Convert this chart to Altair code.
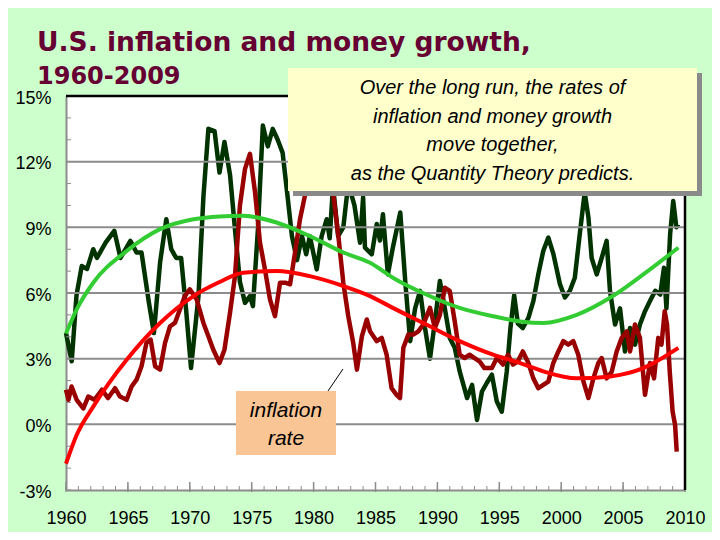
import altair as alt
import pandas as pd

# ---------------- data ----------------
money_year = [1960.0, 1960.46, 1960.85, 1961.27, 1961.7, 1962.2, 1962.5, 1963.2, 1963.9, 1964.4,
              1965.2, 1965.7, 1966.1, 1966.7, 1967.1, 1967.6, 1968.1, 1968.5, 1968.9, 1969.3,
              1969.7, 1970.1, 1970.7, 1971.1, 1971.5, 1972.0, 1972.4, 1972.8, 1973.25, 1973.65,
              1974.05, 1974.46, 1974.86, 1975.1, 1975.5, 1975.9, 1976.3, 1976.7, 1977.1, 1977.5,
              1977.9, 1978.25, 1978.66, 1979.06, 1979.4, 1979.7, 1980.25, 1980.65, 1981.06, 1981.3,
              1981.57, 1981.98, 1982.4, 1982.8, 1983.3, 1983.75, 1984.0, 1984.15, 1984.7, 1985.1,
              1985.36, 1985.6, 1986.0, 1986.4, 1987.0, 1987.4, 1987.8, 1988.2, 1988.6, 1989.0,
              1989.4, 1989.8, 1990.2, 1990.6, 1991.0, 1991.4, 1991.8, 1992.4, 1992.8, 1993.2,
              1993.6, 1994.0, 1994.4, 1994.8, 1995.2, 1995.6, 1995.9, 1996.2, 1996.5, 1996.9,
              1997.35, 1997.75, 1998.15, 1998.55, 1998.96, 1999.36, 1999.9, 2000.3, 2000.7, 2001.1,
              2001.5, 2001.9, 2002.2, 2002.46, 2002.87, 2003.27, 2003.67, 2003.94, 2004.35, 2004.75,
              2005.15, 2005.56, 2005.96, 2006.36, 2006.77, 2007.17, 2007.6, 2008.0, 2008.3, 2008.5,
              2008.8, 2009.05, 2009.3, 2009.46]
money_val = [4.17, 2.88, 5.9, 7.23, 7.1, 8.0, 7.6, 8.3, 8.84, 7.6,
             8.38, 7.85, 7.85, 5.55, 4.17, 7.4, 9.37, 8.0, 7.6, 7.6,
             5.25, 2.57, 5.86, 10.4, 13.5, 13.4, 11.5, 12.9, 11.4, 8.9,
             6.5, 5.55, 5.86, 5.4, 8.9, 13.65, 12.7, 13.5, 13.0, 12.4,
             10.4, 8.6, 7.5, 8.6, 7.77, 8.6, 7.08, 8.6, 9.37, 8.5,
             10.9, 8.6, 9.0, 11.0, 10.0, 8.3, 10.37, 8.07, 7.77, 9.15,
             8.4, 9.6, 6.85, 8.07, 9.68, 6.55, 3.8, 5.3, 6.1, 4.4,
             3.0, 4.7, 6.55, 5.3, 3.95, 3.5, 2.42, 1.2, 1.8, 0.2,
             1.5, 1.9, 2.27, 1.04, 0.58, 2.4, 4.4, 5.9, 4.6, 4.4,
             4.86, 5.63, 6.85, 7.92, 8.53, 7.8, 6.4, 5.8, 6.1, 6.7,
             8.7, 10.6, 9.45, 7.6, 6.85, 7.6, 8.38, 6.1, 4.56, 5.3,
             3.33, 4.4, 3.64, 4.56, 5.17, 5.63, 6.1, 5.93, 7.15, 5.3,
             8.7, 10.2, 9.0, 9.15]

infl_year = [1960.0, 1960.2, 1960.45, 1960.86, 1961.4, 1961.8, 1962.3, 1962.9, 1963.4, 1963.96,
             1964.36, 1964.9, 1965.3, 1965.7, 1966.1, 1966.5, 1966.84, 1967.2, 1967.6, 1968.0,
             1968.4, 1968.8, 1969.2, 1969.6, 1970.0, 1970.56, 1971.1, 1971.5, 1971.9, 1972.4,
             1972.8, 1973.25, 1973.65, 1974.05, 1974.46, 1974.86, 1975.27, 1975.67, 1976.07, 1976.48,
             1976.88, 1977.29, 1977.7, 1978.1, 1978.5, 1978.9, 1979.3, 1979.7, 1980.2, 1980.6,
             1981.0, 1981.3, 1981.6, 1982.0, 1982.4, 1982.8, 1983.2, 1983.5, 1983.9, 1984.3,
             1984.56, 1985.1, 1985.5, 1985.9, 1986.3, 1986.7, 1986.98, 1987.25, 1987.65, 1988.05,
             1988.46, 1988.86, 1989.4, 1989.8, 1990.2, 1990.6, 1991.0, 1991.4, 1991.8, 1992.2,
             1992.6, 1993.0, 1993.4, 1993.8, 1994.4, 1994.8, 1995.3, 1995.7, 1996.1, 1996.5,
             1996.9, 1997.35, 1997.75, 1998.15, 1998.55, 1998.96, 1999.36, 1999.77, 2000.17, 2000.57,
             2000.98, 2001.38, 2001.8, 2002.2, 2002.6, 2003.0, 2003.27, 2003.67, 2004.08, 2004.48,
             2004.89, 2005.3, 2005.56, 2005.96, 2006.36, 2006.77, 2007.17, 2007.5, 2007.84, 2008.1,
             2008.36, 2008.55, 2008.77, 2009.0, 2009.2, 2009.33]
infl_val = [1.58, 1.12, 1.73, 1.12, 0.73, 1.27, 1.12, 1.58, 1.2, 1.65,
            1.27, 1.12, 1.73, 2.04, 2.65, 3.72, 3.87, 2.65, 2.5, 3.72,
            4.48, 4.63, 5.25, 5.86, 6.17, 5.7, 4.63, 4.02, 3.41, 2.8,
            3.41, 5.1, 6.77, 10.0, 11.67, 12.36, 10.6, 8.3, 7.08, 5.7,
            4.94, 6.47, 6.47, 6.4, 7.85, 9.37, 10.45, 12.2, 14.6, 12.8,
            12.0, 10.9, 10.45, 8.6, 6.47, 4.94, 3.72, 2.5, 4.02, 4.79,
            4.25, 3.8, 3.95, 3.18, 1.65, 1.35, 1.2, 3.5, 4.1, 4.1,
            4.25, 4.56, 5.32, 4.4, 5.0, 6.24, 6.1, 4.7, 3.18, 3.03,
            3.18, 3.03, 2.88, 2.57, 2.57, 3.03, 2.73, 3.18, 2.73, 2.88,
            3.33, 2.8, 2.1, 1.65, 1.8, 1.95, 2.8, 3.33, 3.8, 3.64,
            3.8, 3.18, 1.95, 1.2, 2.1, 2.8, 3.03, 2.1, 2.4, 3.33,
            3.95, 4.25, 3.33, 4.56, 3.95, 1.35, 2.8, 2.1, 3.95, 3.64,
            5.17, 4.56, 2.4, 0.58, -0.03, -1.25]

trend_year = [1960.0, 1960.86, 1962.2, 1964.9, 1967.6, 1970.3, 1972.4, 1974.3, 1977.0, 1979.7,
              1982.4, 1984.56, 1986.4, 1989.1, 1991.8, 1994.5, 1996.7, 1998.55, 2001.25, 2003.94,
              2006.63, 2009.46]
money_trend = [4.15, 5.25, 6.47, 7.92, 8.92, 9.37, 9.5, 9.53, 9.22, 8.6,
               7.85, 7.38, 6.7, 5.93, 5.32, 4.94, 4.7, 4.63, 5.0, 5.78,
               6.85, 8.07]
infl_trend = [-1.8, -0.49, 0.81, 2.95, 4.63, 5.86, 6.5, 6.93, 7.0, 6.77,
              6.32, 5.86, 5.32, 4.56, 3.8, 3.18, 2.8, 2.42, 2.1, 2.19,
              2.57, 3.49]

grid_values = [0, 3, 6, 9, 12]
y_label_values = [-3, 0, 3, 6, 9, 12, 15]
x_label_values = [1960, 1965, 1970, 1975, 1980, 1985, 1990, 1995, 2000, 2005, 2010]
x_minor = list(range(1960, 2011))
y_minor = list(range(-3, 16))

title_line1 = "U.S. inflation and money growth,"
title_line2 = "1960-2009"
callout_lines = ["Over the long run, the rates of", "inflation and money growth",
                 "move together,", "as the Quantity Theory predicts."]
infl_label = ["inflation", "rate"]

# ---------------- chart ----------------
W, H = 619, 394
L, T = 66, 96  # plot origin on the page (used for annotation placement)
FONT = "Liberation Sans"

xs = alt.Scale(domain=[1960, 2010], nice=False, zero=False)
ys = alt.Scale(domain=[-3, 15], nice=False, zero=False)

X_AX = alt.Axis(values=x_label_values, format="d", ticks=False, grid=False, title=None,
                domainColor="#8c8c8c", domainWidth=2, labelFont=FONT, labelFontSize=18,
                labelColor="black", labelPadding=19, labelFlush=False, labelOverlap=False)
Y_AX = alt.Axis(values=y_label_values, labelExpr="datum.value + '%'", ticks=False, grid=False,
                title=None, domainColor="#8c8c8c", domainWidth=2, labelFont=FONT,
                labelFontSize=18, labelColor="black", labelPadding=15, labelFlush=False,
                labelOverlap=False, labelOffset=2)


def X(field):
    return alt.X(field, scale=xs, axis=X_AX)


def Y(field):
    return alt.Y(field, scale=ys, axis=Y_AX)


money_df = pd.DataFrame({"year": money_year, "rate": money_val})
infl_df = pd.DataFrame({"year": infl_year, "rate": infl_val})
trend_df = pd.DataFrame({"year": trend_year, "money": money_trend, "infl": infl_trend})
one = pd.DataFrame({"a": [0]})

money_line = alt.Chart(money_df).mark_line(color="#003300", strokeWidth=4.5, strokeJoin="round").encode(
    x=X("year:Q"), y=Y("rate:Q"))

grid = alt.Chart(pd.DataFrame({"v": grid_values})).mark_rule(
    color="#8c8c8c", strokeWidth=2).encode(y=Y("v:Q"))

xt_minor = alt.Chart(pd.DataFrame({"yr": x_minor})).mark_rule(color="#8c8c8c", strokeWidth=1).encode(
    x=X("yr:Q"), y=alt.value(H), y2=alt.value(H - 4))
xt_major = alt.Chart(pd.DataFrame({"yr": x_label_values})).mark_rule(color="#8c8c8c", strokeWidth=1.5).encode(
    x=X("yr:Q"), y=alt.value(H + 2), y2=alt.value(H - 8))
yt_minor = alt.Chart(pd.DataFrame({"v": y_minor})).mark_rule(color="#8c8c8c", strokeWidth=1).encode(
    y=Y("v:Q"), x=alt.value(0), x2=alt.value(5))

infl_line = alt.Chart(infl_df).mark_line(color="#990000", strokeWidth=4.5, strokeJoin="round").encode(
    x=X("year:Q"), y=Y("rate:Q"))

money_tr = alt.Chart(trend_df).mark_line(color="#33CC33", strokeWidth=4, interpolate="monotone").encode(
    x=X("year:Q"), y=Y("money:Q"))
infl_tr = alt.Chart(trend_df).mark_line(color="#FF0000", strokeWidth=4, interpolate="monotone").encode(
    x=X("year:Q"), y=Y("infl:Q"))

top_border = alt.Chart(one).mark_rule(color="black", strokeWidth=2.5).encode(
    x=alt.value(0), x2=alt.value(W), y=alt.value(0))
right_border = alt.Chart(one).mark_rule(color="black", strokeWidth=2.5).encode(
    x=alt.value(W), y=alt.value(0), y2=alt.value(H))

bx0, bx1, by0, by1 = 288 - L, 697 - L, 68 - T, 191 - T
callout_shadow = alt.Chart(one).mark_rect(color="#8a8a8a").encode(
    x=alt.value(bx0 + 5), x2=alt.value(bx1 + 5), y=alt.value(by0 + 5), y2=alt.value(by1 + 5))
callout_box = alt.Chart(one).mark_rect(color="#FFFFCC").encode(
    x=alt.value(bx0), x2=alt.value(bx1), y=alt.value(by0), y2=alt.value(by1))
callout_text = alt.Chart(one).mark_text(
    text=callout_lines, font=FONT, fontSize=20, fontStyle="italic", color="black",
    align="center", baseline="alphabetic", lineHeight=28.7
).encode(x=alt.value((bx0 + bx1) / 2), y=alt.value(94 - T))

ib_box = alt.Chart(one).mark_rect(color="#F9C594").encode(
    x=alt.value(236 - L), x2=alt.value(336 - L), y=alt.value(391 - T), y2=alt.value(455 - T))
ib_text = alt.Chart(one).mark_text(
    text=infl_label, font=FONT, fontSize=21, fontStyle="italic", color="black",
    align="center", baseline="alphabetic", lineHeight=28
).encode(x=alt.value(286 - L), y=alt.value(417 - T))
leader = alt.Chart(one).mark_rule(color="black", strokeWidth=1).encode(
    x=alt.value(328 - L), y=alt.value(391 - T), x2=alt.value(343 - L), y2=alt.value(369 - T))

title1 = alt.Chart(one).mark_text(
    text=title_line1, font="DejaVu Sans", fontSize=26.5, fontWeight="bold", color="#660033",
    align="left", baseline="alphabetic"
).encode(x=alt.value(37 - L), y=alt.value(51 - T))
title2 = alt.Chart(one).mark_text(
    text=title_line2, font="DejaVu Sans", fontSize=24, fontWeight="bold", color="#660033",
    align="left", baseline="alphabetic"
).encode(x=alt.value(37 - L), y=alt.value(84 - T))

chart = alt.layer(
    money_line, grid, xt_minor, xt_major, yt_minor, infl_line, money_tr, infl_tr,
    top_border, right_border, callout_shadow, callout_box, callout_text,
    ib_box, ib_text, leader, title1, title2
).properties(
    width=W, height=H, background="#CCFFCC",
    autosize=alt.AutoSizeParams(type="none"),
    padding={"left": L - 8, "top": T - 8, "right": 720 - 16 - (L - 8) - W, "bottom": 540 - 16 - (T - 8) - H},
).configure_view(fill="white", stroke=None)

chart.save("out.html", embed_options={"renderer": "svg", "actions": False})
